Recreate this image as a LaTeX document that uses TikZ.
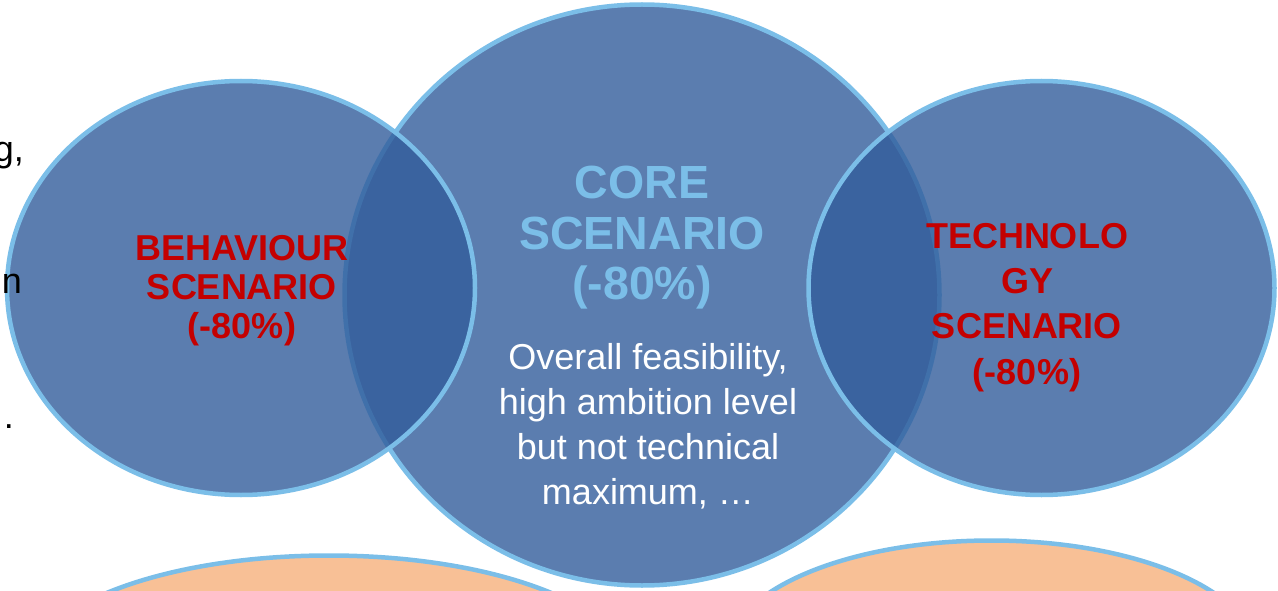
\documentclass[tikz,border=0pt]{standalone}
\usepackage{fontspec}
\setmainfont{Liberation Sans}
\usetikzlibrary{shapes.geometric}
\definecolor{rimblue}{RGB}{123,190,232}
\definecolor{vennfill}{RGB}{50,93,155}
\definecolor{peach}{RGB}{248,192,150}
\definecolor{labelred}{RGB}{196,0,0}
\tikzset{
  vennbubble/.style={ellipse, inner sep=0pt, outer sep=0pt, draw=rimblue, line width=4.5pt, fill=vennfill, fill opacity=0.8, draw opacity=1},
  peachbubble/.style={ellipse, inner sep=0pt, outer sep=0pt, draw=rimblue, line width=4.5pt, fill=peach},
  redlabel/.style={text=labelred, font=\bfseries\fontsize{36}{39}\selectfont, align=center, inner sep=0pt, anchor=north},
  corelabel/.style={text=rimblue, font=\bfseries\fontsize{46.5}{50.5}\selectfont, align=center, inner sep=0pt, anchor=north},
  whitelabel/.style={text=white, font=\fontsize{36}{45}\selectfont, align=center, inner sep=0pt, anchor=north},
  cuttext/.style={text=black, font=\fontsize{36}{40}\selectfont, inner sep=0pt, anchor=base east}
}
\begin{document}
\begin{tikzpicture}[x=1pt,y=-1pt]
\useasboundingbox (0,0) rectangle (1278,591);
% peach ellipses at bottom
\node[peachbubble, minimum width=603pt, minimum height=231pt] (peachL) at (329,671) {};
\node[peachbubble, minimum width=531pt, minimum height=231pt] (peachR) at (991.5,656) {};
% venn circles
\node[vennbubble, minimum width=595pt, minimum height=581pt] (core) at (642,295) {};
\node[vennbubble, minimum width=468pt, minimum height=414pt] (behav) at (241,288) {};
\node[vennbubble, minimum width=466pt, minimum height=414pt] (tech) at (1041.5,288) {};
% text fragments at the left edge
\node[cuttext] (fragA) at (24,162) {g,};
\node[cuttext] (fragB) at (22,293) {n};
\node[cuttext] (fragC) at (14,428) {.};
% labels
\node[redlabel] (behavtxt) at (242,235) {BEHAVIOUR\\SCENARIO\\(-80\%)};
\node[corelabel] (coretxt) at (642,166) {CORE\\SCENARIO\\(-80\%)};
\node[whitelabel] (coredesc) at (648,343) {Overall feasibility,\\high ambition level\\but not technical\\maximum, …};
\node[redlabel, font=\bfseries\fontsize{36}{45.3}\selectfont] (techtxt) at (1027,223) {TECHNOLO\\GY\\SCENARIO\\(-80\%)};
\end{tikzpicture}
\end{document}
